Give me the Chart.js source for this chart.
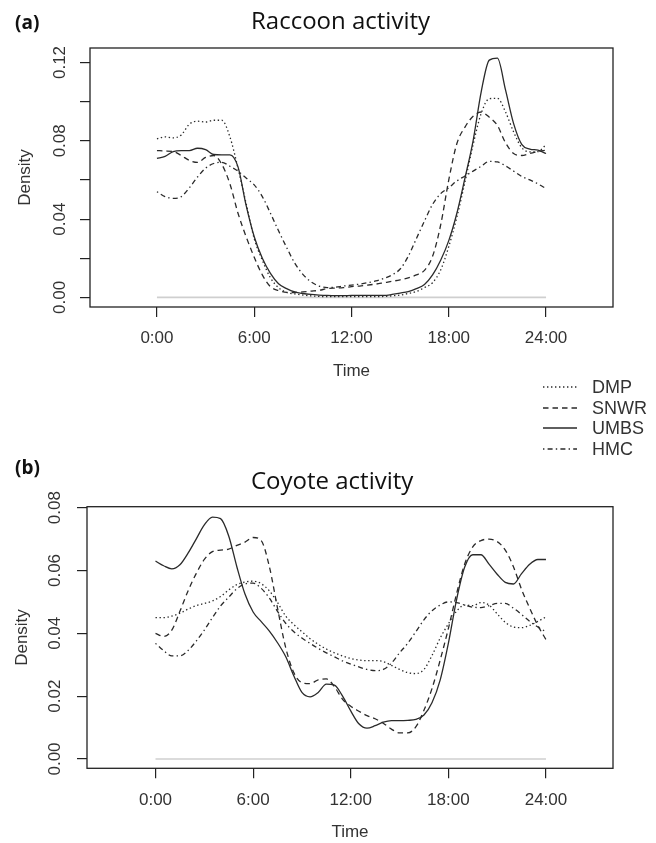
<!DOCTYPE html>
<html>
<head>
<meta charset="utf-8">
<script src="https://cdn.jsdelivr.net/npm/chart.js@4.4.1/dist/chart.umd.min.js"></script>
<style>
  body { margin: 0; background: #fff; }
  canvas { position: absolute; left: 0; }
  #raccoon { top: 0; }
  #coyote { top: 458px; }
</style>
</head>
<body>
<canvas id="raccoon" width="656" height="458"></canvas>
<canvas id="coyote" width="656" height="385"></canvas>
<script>
// time of day (hours) at which the density curves are read
const hours = [0, 0.5, 1, 1.5, 2, 2.5, 3, 3.5, 4, 4.5, 5, 5.5, 6, 6.5, 7, 7.5, 8, 8.5, 9, 9.5,
  10, 10.5, 11, 11.5, 12, 12.5, 13, 13.5, 14, 14.5, 15, 15.5, 16, 16.5, 17, 17.5, 18, 18.5, 19, 19.5,
  20, 20.5, 21, 21.5, 22, 22.5, 23, 23.5, 24];

const sites = ['DMP', 'SNWR', 'UMBS', 'HMC'];

// (a) raccoon
const raccoonDMP = [0.081, 0.082, 0.0815, 0.083, 0.0885, 0.090, 0.0896, 0.0905, 0.0905, 0.082,
  0.066, 0.048, 0.030, 0.019, 0.010, 0.005, 0.0025, 0.0018, 0.0012, 0.0008,
  0.0005, 0.0004, 0.0004, 0.0004, 0.0004, 0.0004, 0.0004, 0.0004, 0.0005, 0.0008,
  0.0012, 0.002, 0.003, 0.005, 0.0075, 0.014, 0.026, 0.041, 0.059, 0.078,
  0.094, 0.1015, 0.1017, 0.0947, 0.0845, 0.0765, 0.0743, 0.0745, 0.078];
const raccoonSNWR = [0.075, 0.0748, 0.0745, 0.0725, 0.070, 0.069, 0.0715, 0.0725, 0.068, 0.058,
  0.043, 0.031, 0.0205, 0.0115, 0.0055, 0.0035, 0.0026, 0.0025, 0.0028, 0.0032,
  0.0036, 0.0045, 0.0048, 0.005, 0.0055, 0.0058, 0.0063, 0.0068, 0.0075, 0.0082,
  0.009, 0.010, 0.0115, 0.0138, 0.021, 0.037, 0.060, 0.0786, 0.087, 0.0925,
  0.0947, 0.092, 0.0878, 0.079, 0.0735, 0.0725, 0.0735, 0.0745, 0.0752];
const raccoonUMBS = [0.071, 0.072, 0.0745, 0.075, 0.075, 0.0762, 0.0755, 0.073, 0.0728, 0.0728,
  0.0667, 0.047, 0.031, 0.020, 0.0123, 0.007, 0.0045, 0.0028, 0.002, 0.0015,
  0.0012, 0.001, 0.0009, 0.0009, 0.001, 0.001, 0.001, 0.001, 0.001, 0.0015,
  0.0022, 0.003, 0.0045, 0.0066, 0.0115, 0.019, 0.029, 0.043, 0.061, 0.080,
  0.105, 0.1212, 0.1222, 0.106, 0.0888, 0.0782, 0.0758, 0.0752, 0.0735];
const raccoonHMC = [0.054, 0.0515, 0.0506, 0.0515, 0.056, 0.0615, 0.066, 0.0684, 0.069, 0.067,
  0.0645, 0.061, 0.0575, 0.0515, 0.043, 0.034, 0.0255, 0.0175, 0.0118, 0.008,
  0.0058, 0.005, 0.0052, 0.0058, 0.0063, 0.0068, 0.0075, 0.0084, 0.0097, 0.0115,
  0.0145, 0.021, 0.030, 0.039, 0.0475, 0.053, 0.056, 0.0595, 0.062, 0.0645,
  0.067, 0.0695, 0.0692, 0.0672, 0.0645, 0.0618, 0.060, 0.058, 0.0556];

// (b) coyote
const coyoteDMP = [0.045, 0.045, 0.0455, 0.0464, 0.0477, 0.0488, 0.0495, 0.0503, 0.0517, 0.0538,
  0.0555, 0.0563, 0.0566, 0.0558, 0.0535, 0.0498, 0.0455, 0.0428, 0.0405, 0.0383,
  0.0365, 0.035, 0.0338, 0.0328, 0.032, 0.0315, 0.0313, 0.0313, 0.031, 0.0298,
  0.0285, 0.0275, 0.0272, 0.0285, 0.033, 0.0385, 0.043, 0.047, 0.049, 0.0488,
  0.0498, 0.049, 0.0462, 0.0435, 0.042, 0.0418, 0.0425, 0.0438, 0.0452];
const coyoteSNWR = [0.040, 0.039, 0.041, 0.047, 0.0535, 0.059, 0.0635, 0.066, 0.0665, 0.0668,
  0.068, 0.069, 0.0705, 0.0695, 0.0612, 0.048, 0.0355, 0.0275, 0.0243, 0.024,
  0.0252, 0.0255, 0.023, 0.019, 0.0168, 0.0152, 0.0138, 0.0128, 0.0114, 0.0095,
  0.0083, 0.0083, 0.0102, 0.0155, 0.0225, 0.0315, 0.0415, 0.0525, 0.062, 0.0675,
  0.0695, 0.070, 0.0692, 0.0665, 0.0612, 0.054, 0.048, 0.0425, 0.038];
const coyoteUMBS = [0.063, 0.0615, 0.0605, 0.0618, 0.0655, 0.070, 0.0745, 0.077, 0.0765, 0.071,
  0.0612, 0.0525, 0.0468, 0.0437, 0.0407, 0.037, 0.0326, 0.0265, 0.0212, 0.0198,
  0.0212, 0.0238, 0.0235, 0.020, 0.0153, 0.0112, 0.0098, 0.0106, 0.0117, 0.0122,
  0.0122, 0.0123, 0.0126, 0.014, 0.018, 0.0252, 0.0368, 0.0506, 0.061, 0.065,
  0.065, 0.062, 0.0588, 0.0562, 0.0557, 0.059, 0.062, 0.0635, 0.0635];
const coyoteHMC = [0.0368, 0.0345, 0.0328, 0.0328, 0.0345, 0.0375, 0.041, 0.045, 0.0487, 0.0515,
  0.0542, 0.0557, 0.056, 0.0543, 0.0512, 0.047, 0.0432, 0.0405, 0.0385, 0.0368,
  0.0352, 0.0338, 0.0325, 0.0312, 0.0302, 0.0293, 0.0285, 0.0281, 0.0285, 0.0305,
  0.0338, 0.0368, 0.0405, 0.0443, 0.0472, 0.049, 0.050, 0.0498, 0.049, 0.0483,
  0.0482, 0.0488, 0.0495, 0.0495, 0.048, 0.046, 0.0438, 0.042, 0.0405];

// grey baseline drawn at zero from 0:00 to 24:00
const baseHours = [0, 24];
const baseValues = [0, 0];

const xTicks = [0, 6, 12, 18, 24];
const xTickLabels = ['0:00', '6:00', '12:00', '18:00', '24:00'];
const raccoonYTicks = [0, 0.02, 0.04, 0.06, 0.08, 0.10, 0.12];
const raccoonYLabels = ['0.00', '', '0.04', '', '0.08', '', '0.12'];
const coyoteYTicks = [0, 0.02, 0.04, 0.06, 0.08];
const coyoteYLabels = ['0.00', '0.02', '0.04', '0.06', '0.08'];

const dashes = { DMP: [1.4, 2.6], SNWR: [5.5, 4], UMBS: [], HMC: [1.4, 3.2, 5, 3.2] };
const ink = '#2a2a2a';
const axisFont = { family: 'Liberation Sans, Arial, sans-serif', size: 17 };

// box round the plot, panel letter and panel title
const frame = {
  id: 'frame',
  afterDatasetsDraw(chart, args, opts) {
    const { ctx, chartArea: a } = chart;
    ctx.save();
    ctx.strokeStyle = '#222';
    ctx.lineWidth = 1.3;
    ctx.strokeRect(a.left, a.top, a.right - a.left, a.bottom - a.top);
    ctx.fillStyle = '#111';
    ctx.textBaseline = 'alphabetic';
    ctx.textAlign = 'left';
    ctx.font = 'bold 19px "Open Sans", sans-serif';
    ctx.fillText(opts.panel, 15, opts.panelY);
    ctx.font = '24px "Open Sans", sans-serif';
    ctx.fillText(opts.title, 251, opts.titleY);
    ctx.restore();
  }
};

const siteLegend = {
  id: 'siteLegend',
  afterDraw(chart, args, opts) {
    if (!opts.show) return;
    const ctx = chart.ctx;
    ctx.save();
    ctx.font = '18px Liberation Sans, Arial, sans-serif';
    ctx.textBaseline = 'middle';
    chart.data.datasets.forEach((ds, i) => {
      if (!sites.includes(ds.label)) return;
      const y = opts.rows[i];
      ctx.strokeStyle = ds.borderColor;
      ctx.lineWidth = ds.borderWidth;
      ctx.setLineDash(ds.borderDash);
      ctx.beginPath();
      ctx.moveTo(543, y);
      ctx.lineTo(577, y);
      ctx.stroke();
      ctx.setLineDash([]);
      ctx.fillStyle = '#333';
      ctx.fillText(ds.label, 592, y + 1);
    });
    ctx.restore();
  }
};

function series(values) {
  return hours.map((h, i) => ({ x: h, y: values[i] }));
}

function makeChart(id, cfg) {
  const datasets = sites.map((s, i) => ({
    label: s,
    data: series(cfg.values[i]),
    borderColor: ink,
    borderWidth: 1.3,
    borderDash: dashes[s],
    pointRadius: 0,
    fill: false,
    cubicInterpolationMode: 'monotone'
  }));
  datasets.push({
    label: 'zero',
    data: baseHours.map((h, i) => ({ x: h, y: baseValues[i] })),
    borderColor: '#cfcfcf',
    borderWidth: 1.6,
    pointRadius: 0,
    fill: false
  });

  return new Chart(document.getElementById(id), {
    type: 'line',
    data: { datasets },
    plugins: [frame, siteLegend],
    options: {
      responsive: false,
      animation: false,
      layout: { padding: { left: 0, top: cfg.padTop, right: 43, bottom: cfg.padBottom } },
      plugins: {
        legend: { display: false },
        tooltip: { enabled: false },
        title: { display: false },
        frame: { panel: cfg.panel, panelY: cfg.panelY, title: cfg.title, titleY: cfg.titleY },
        siteLegend: { show: cfg.legend, rows: [387, 408, 428, 449] }
      },
      scales: {
        x: {
          type: 'linear',
          min: cfg.xMin,
          max: cfg.xMax,
          afterBuildTicks: s => { s.ticks = xTicks.map(v => ({ value: v })); },
          afterFit: s => { s.height = cfg.xHeight; },
          ticks: {
            callback: (v, i) => xTickLabels[i],
            autoSkip: false,
            maxRotation: 0,
            padding: 11.5,
            color: '#333',
            font: axisFont
          },
          grid: { drawOnChartArea: false, drawTicks: true, tickLength: 10, color: '#222', lineWidth: 1.2 },
          border: { display: false },
          title: { display: true, text: 'Time', color: '#333', font: axisFont, padding: { top: 0, bottom: 0 } }
        },
        y: {
          type: 'linear',
          min: cfg.yMin,
          max: cfg.yMax,
          afterBuildTicks: s => { s.ticks = cfg.yTicks.map(v => ({ value: v })); },
          afterFit: s => { s.width = cfg.yWidth; },
          ticks: {
            callback: (v, i) => cfg.yLabels[i],
            autoSkip: false,
            minRotation: 90,
            maxRotation: 90,
            crossAlign: 'center',
            padding: cfg.yPad,
            color: '#333',
            font: axisFont
          },
          grid: { drawOnChartArea: false, drawTicks: true, tickLength: 10, color: '#222', lineWidth: 1.2 },
          border: { display: false },
          title: { display: true, text: 'Density', color: '#333', font: axisFont, padding: { top: cfg.densityPad, bottom: 0 } }
        }
      }
    }
  });
}

makeChart('raccoon', {
  title: 'Raccoon activity', titleY: 28.5,
  panel: '(a)', panelY: 29,
  values: [raccoonDMP, raccoonSNWR, raccoonUMBS, raccoonHMC],
  legend: true,
  xMin: -4.13, xMax: 28.13,
  yMin: -0.0049, yMax: 0.1274,
  yTicks: raccoonYTicks, yLabels: raccoonYLabels,
  yWidth: 90, yPad: 3.5, densityPad: 15,
  xHeight: 75, padTop: 48, padBottom: 76
});

makeChart('coyote', {
  title: 'Coyote activity', titleY: 30.5,
  panel: '(b)', panelY: 16,
  values: [coyoteDMP, coyoteSNWR, coyoteUMBS, coyoteHMC],
  legend: false,
  xMin: -4.21, xMax: 28.12,
  yMin: -0.00296, yMax: 0.0803,
  yTicks: coyoteYTicks, yLabels: coyoteYLabels,
  yWidth: 87, yPad: 5.5, densityPad: 12,
  xHeight: 74.7, padTop: 48.7, padBottom: 0
});
</script>
</body>
</html>
